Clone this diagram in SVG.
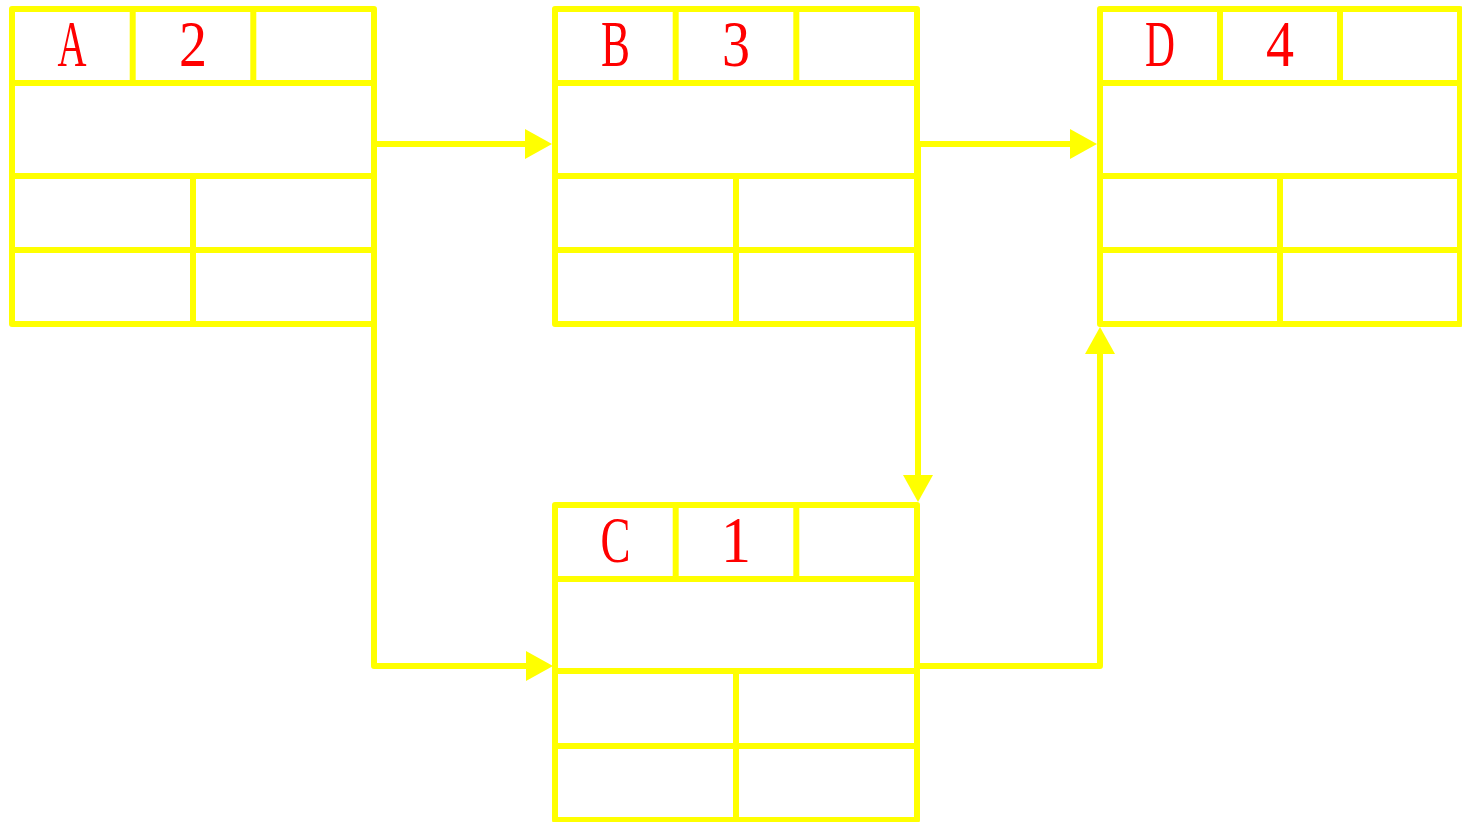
<svg xmlns="http://www.w3.org/2000/svg" width="1462" height="822" viewBox="0 0 1462 822">
<style>
.box{fill:none;stroke:#ffff00;stroke-width:6;stroke-linejoin:round}
.div{stroke:#ffff00;stroke-width:6}
.con{fill:none;stroke:#ffff00;stroke-width:6;stroke-linejoin:round}
.lbl{fill:#ff0000;font-family:"Liberation Serif","DejaVu Serif",serif;font-size:66px;text-anchor:middle}
</style>
<defs>
<marker id="arr" markerUnits="userSpaceOnUse" markerWidth="28" markerHeight="30" refX="0" refY="15" orient="auto" overflow="visible">
<path d="M0,0 L27,15 L0,30 Z" fill="#ffff00"/>
</marker>
</defs>
<rect width="1462" height="822" fill="#ffffff"/>
<g id="connectors">
<path class="con" d="M374,144 H525" marker-end="url(#arr)"/>
<path class="con" d="M374,144 V666 H526" marker-end="url(#arr)"/>
<path class="con" d="M917,144 H1070" marker-end="url(#arr)"/>
<path class="con" d="M918,144 V475" marker-end="url(#arr)"/>
<path class="con" d="M917,666 H1100 V354" marker-end="url(#arr)"/>
</g>
<g id="node-A">
<rect class="box" x="12" y="9" width="362" height="315"/>
<line class="div" x1="12" y1="83" x2="374" y2="83"/>
<line class="div" x1="12" y1="176" x2="374" y2="176"/>
<line class="div" x1="12" y1="250" x2="374" y2="250"/>
<line class="div" x1="132.7" y1="9" x2="132.7" y2="83"/>
<line class="div" x1="253.3" y1="9" x2="253.3" y2="83"/>
<line class="div" x1="193" y1="176" x2="193" y2="324"/>
<text class="lbl" x="72" y="66" textLength="29" lengthAdjust="spacingAndGlyphs">A</text>
<text class="lbl" x="193" y="66" textLength="28" lengthAdjust="spacingAndGlyphs">2</text>
</g>
<g id="node-B">
<rect class="box" x="555" y="9" width="362" height="315"/>
<line class="div" x1="555" y1="83" x2="917" y2="83"/>
<line class="div" x1="555" y1="176" x2="917" y2="176"/>
<line class="div" x1="555" y1="250" x2="917" y2="250"/>
<line class="div" x1="675.7" y1="9" x2="675.7" y2="83"/>
<line class="div" x1="796.3" y1="9" x2="796.3" y2="83"/>
<line class="div" x1="736" y1="176" x2="736" y2="324"/>
<text class="lbl" x="615.5" y="66" textLength="29" lengthAdjust="spacingAndGlyphs">B</text>
<text class="lbl" x="736" y="66" textLength="28" lengthAdjust="spacingAndGlyphs">3</text>
</g>
<g id="node-C">
<rect class="box" x="555" y="505" width="362" height="315"/>
<line class="div" x1="555" y1="579" x2="917" y2="579"/>
<line class="div" x1="555" y1="671" x2="917" y2="671"/>
<line class="div" x1="555" y1="746" x2="917" y2="746"/>
<line class="div" x1="675.7" y1="505" x2="675.7" y2="579"/>
<line class="div" x1="796.3" y1="505" x2="796.3" y2="579"/>
<line class="div" x1="736" y1="671" x2="736" y2="820"/>
<text class="lbl" x="615.5" y="562" textLength="30" lengthAdjust="spacingAndGlyphs">C</text>
<text class="lbl" x="736" y="562" textLength="30" lengthAdjust="spacingAndGlyphs">1</text>
</g>
<g id="node-D">
<rect class="box" x="1100" y="9" width="360" height="315"/>
<line class="div" x1="1100" y1="83" x2="1460" y2="83"/>
<line class="div" x1="1100" y1="176" x2="1460" y2="176"/>
<line class="div" x1="1100" y1="250" x2="1460" y2="250"/>
<line class="div" x1="1220" y1="9" x2="1220" y2="83"/>
<line class="div" x1="1340" y1="9" x2="1340" y2="83"/>
<line class="div" x1="1280" y1="176" x2="1280" y2="324"/>
<text class="lbl" x="1160" y="66" textLength="30" lengthAdjust="spacingAndGlyphs">D</text>
<text class="lbl" x="1280" y="66" textLength="28" lengthAdjust="spacingAndGlyphs">4</text>
</g>
</svg>
